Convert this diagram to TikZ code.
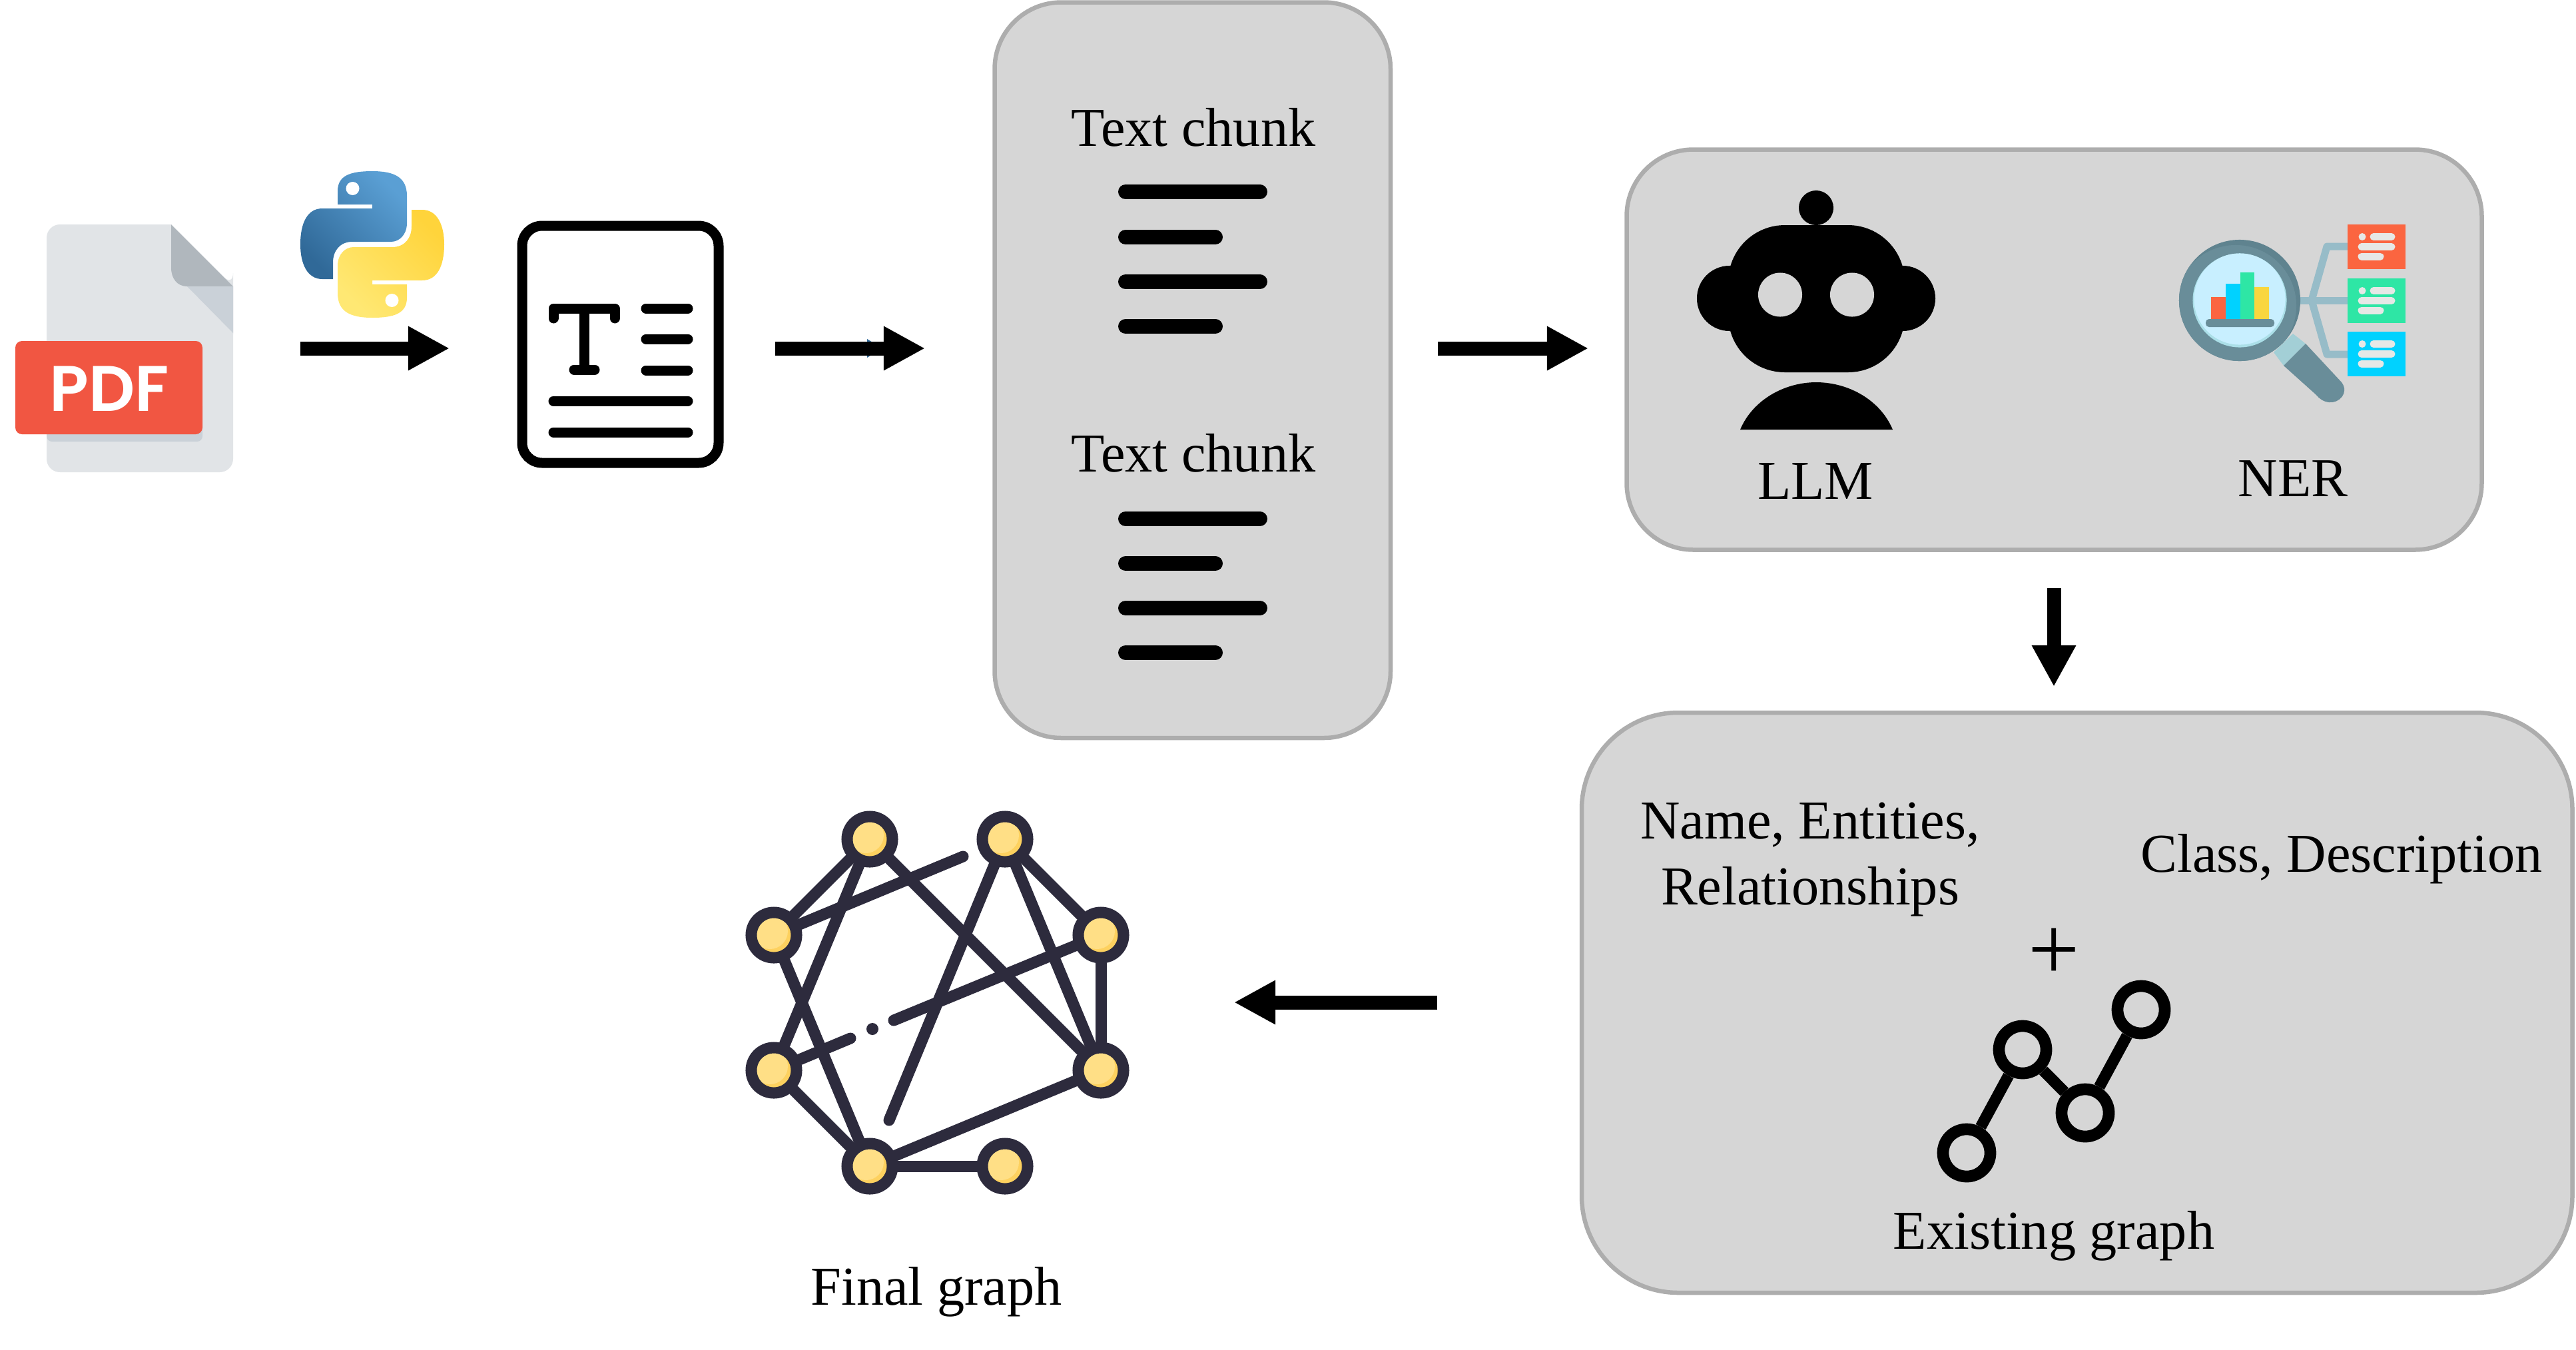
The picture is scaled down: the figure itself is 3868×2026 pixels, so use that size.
\documentclass[tikz,border=0pt]{standalone}
\usepackage{fontspec}
\setmainfont{Liberation Serif}
\newfontfamily\pdffont{Poppins SemiBold}
\usetikzlibrary{arrows.meta}
\definecolor{panelfill}{HTML}{D6D6D6}
\definecolor{panelline}{HTML}{ADADAD}
\definecolor{pdfpage}{HTML}{E1E4E7}
\definecolor{pdffold}{HTML}{B0B7BD}
\definecolor{pdfshade}{HTML}{CAD1D8}
\definecolor{pdfred}{HTML}{F15642}
\definecolor{pyblueA}{HTML}{5A9FD4}
\definecolor{pyblueB}{HTML}{306998}
\definecolor{pyyellowA}{HTML}{FFE873}
\definecolor{pyyellowB}{HTML}{FFD43B}
\definecolor{lensring}{HTML}{698D99}
\definecolor{lensdark}{HTML}{5F838F}
\definecolor{lensglass}{HTML}{C8EFFF}
\definecolor{lensedge}{HTML}{ABDFE8}
\definecolor{lensneck}{HTML}{A3CFD6}
\definecolor{treeline}{HTML}{97BCC8}
\definecolor{cardred}{HTML}{FB6540}
\definecolor{cardgreen}{HTML}{2EE6A5}
\definecolor{cardblue}{HTML}{00D2FF}
\definecolor{cardrow}{HTML}{E6E8E6}
\definecolor{baryellow}{HTML}{F9D63F}
\definecolor{graphink}{HTML}{2D2B3D}
\definecolor{nodelight}{HTML}{FFDF86}
\definecolor{nodedark}{HTML}{FDD15F}
\begin{document}
\begin{tikzpicture}[x=.01cm,y=-.01cm]
\tikzset{
    panelbox/.style={fill=panelfill,draw=panelline,line width=.065cm},
    lab/.style={anchor=base,inner sep=0,font=\fontsize{23.4}{28.1}\selectfont},
    flowarrow/.style={line width=.21cm,-{Triangle[length=.62cm,width=.62cm]}},
    inkline/.style={line width=.15cm,line cap=round,line join=round},
    chunkline/.style={line width=.22cm,line cap=round},
    treelink/.style={treeline,line width=.11cm,line join=round},
    cardbar/.style={cardrow,line width=.11cm,line cap=round},
    graphnode/.style={circle,draw=graphink,line width=.17cm,minimum size=.68cm,inner sep=0,fill=nodelight,
        path picture={\fill[nodedark] (path picture bounding box.center) circle(.3cm);
        \fill[nodelight] ([xshift=-.06cm,yshift=.06cm]path picture bounding box.center) circle(.27cm);}},
    graphedge/.style={graphink,line width=.17cm,line cap=round},
    oldnode/.style={circle,draw=black,line width=.177cm,minimum size=.71cm,inner sep=0},
    oldedge/.style={black,line width=.17cm}}
\useasboundingbox (0,0) rectangle (3868,2026);

\begin{scope}[shift={(0,2)}]
% pdf
\fill[pdfpage,rounded corners=.2cm] (70,335) -- (70,707) -- (350,707) -- (350,428) -- (350,428) -- (257,335) -- cycle;
\fill[pdfpage] (200,335) -- (257,335) -- (350,428) -- (350,500) -- (200,500) -- cycle;
\fill[pdffold] (257,335) -- (350,428) -- (281,428) .. controls (266,428) and (257,416) .. (257,400) -- cycle;
\fill[pdfshade] (281,428) -- (350,428) -- (350,498) -- cycle;
\fill[pdfshade,rounded corners=.08cm] (70,600) rectangle (304,661);
\fill[pdfred,rounded corners=.1cm] (23,510) rectangle (304,650);
\node (pdftag) at (164,582) [white,inner sep=0] {\pdffont\fontsize{27.5}{30}\selectfont PDF};

% python
\def\pysnake{(559,255) .. controls (592,255) and (611,264) .. (611,292) -- (611,333) .. controls (611,350) and (600,361) .. (587,361) -- (529,361) .. controls (510,361) and (500,375) .. (500,392) -- (500,417) -- (484,417) .. controls (462,417) and (451,395) .. (451,365) .. controls (451,332) and (462,311) .. (484,311) -- (559,311) -- (559,305) -- (507,305) -- (507,285) .. controls (507,262) and (525,255) .. (559,255) -- cycle}
\shade[left color=pyblueA,right color=pyblueB,shading angle=-45] \pysnake;
\fill[white] (529.5,281) circle(.1cm);
\begin{scope}[rotate around={180:(559,365)}]
\shade[left color=pyyellowB,right color=pyyellowA,shading angle=-45] \pysnake;
\fill[white] (529.5,281) circle(.1cm);
\end{scope}

% text page
\draw[line width=.15cm,rounded corners=.3cm] (784,337) rectangle (1079,693);
\draw[inkline] (831,476) -- (831,461) -- (923,461) -- (923,476);
\draw[inkline,line cap=butt] (877,461) -- (877,553);
\draw[inkline] (862,553) -- (893,553);
\draw[inkline] (970,461) -- (1033,461);
\draw[inkline] (970,507) -- (1033,507);
\draw[inkline] (970,554) -- (1033,554);
\draw[inkline] (831,600) -- (1033,600);
\draw[inkline] (831,647) -- (1033,647);
\end{scope}

% chunks
\draw[panelbox,rounded corners=1cm] (1493.5,3.5) rectangle (2088,1108);
\node (chunkA) at (1792,219) [lab] {Text chunk};
\draw[chunkline] (1690,288) -- (1892,288);
\draw[chunkline] (1690,356) -- (1825,356);
\draw[chunkline] (1690,423) -- (1892,423);
\draw[chunkline] (1690,490) -- (1825,490);
\node (chunkB) at (1792,708) [lab] {Text chunk};
\draw[chunkline] (1690,779) -- (1892,779);
\draw[chunkline] (1690,846) -- (1825,846);
\draw[chunkline] (1690,913) -- (1892,913);
\draw[chunkline] (1690,980) -- (1825,980);

% llm and ner
\draw[panelbox,rounded corners=1cm] (2442.5,224.5) rectangle (3726.5,825.5);
\fill (2727,312) circle(.26cm);
\fill[rounded corners=.85cm] (2595,338) rectangle (2860,559);
\fill (2597,448) circle(.49cm);
\fill (2857,448) circle(.49cm);
\fill[panelfill] (2673,442.5) circle(.33cm);
\fill[panelfill] (2781,442.5) circle(.33cm);
\fill (2613,645) .. controls (2632,600) and (2680,574) .. (2727,574) .. controls (2775,574) and (2823,600) .. (2842,645) -- cycle;
\node (llmlabel) at (2726,749) [lab] {LLM};

\draw[treelink] (3450,451) -- (3525,451);
\draw[treelink] (3471,451) -- (3494,370) -- (3525,370);
\draw[treelink] (3471,451) -- (3494,532) -- (3525,532);
\fill[lensneck] (3414,529) -- (3443,501) -- (3462,516) -- (3429,549) -- cycle;
\fill[lensring] (3462,516) -- (3516,574) .. controls (3528,590) and (3512,606) .. (3497,604) .. controls (3488,603) and (3482,598) .. (3478,593) -- (3429,549) -- cycle;
\fill[lensdark] (3363,451) circle(.91cm);
\begin{scope}
\clip (3363,451) circle(.91cm);
\fill[lensring] (3357,459) circle(.91cm);
\end{scope}
\fill[lensedge] (3363,451) circle(.705cm);
\fill[lensglass] (3363,449) circle(.685cm);
\fill[cardred] (3320,446) rectangle (3342,480);
\fill[cardblue] (3342,426) rectangle (3364,480);
\fill[cardgreen] (3364,409) rectangle (3385,480);
\fill[baryellow] (3385,431) rectangle (3407,480);
\fill[lensring,rounded corners=.05cm] (3312,479) rectangle (3415,491);

\def\ct{337}
\def\col{cardred}
\fill[\col] (3525,\ct) rectangle (3612,\ct+67);
\fill[cardbar] (3547,\ct+18.5) circle(.055cm);
\draw[cardbar] (3564,\ct+18.5) -- (3591,\ct+18.5);
\draw[cardbar] (3546,\ct+33.5) -- (3591,\ct+33.5);
\draw[cardbar] (3546,\ct+48) -- (3574,\ct+48);

\def\ct{418}
\def\col{cardgreen}
\fill[\col] (3525,\ct) rectangle (3612,\ct+67);
\fill[cardbar] (3547,\ct+18.5) circle(.055cm);
\draw[cardbar] (3564,\ct+18.5) -- (3591,\ct+18.5);
\draw[cardbar] (3546,\ct+33.5) -- (3591,\ct+33.5);
\draw[cardbar] (3546,\ct+48) -- (3574,\ct+48);

\def\ct{498}
\def\col{cardblue}
\fill[\col] (3525,\ct) rectangle (3612,\ct+67);
\fill[cardbar] (3547,\ct+18.5) circle(.055cm);
\draw[cardbar] (3564,\ct+18.5) -- (3591,\ct+18.5);
\draw[cardbar] (3546,\ct+33.5) -- (3591,\ct+33.5);
\draw[cardbar] (3546,\ct+48) -- (3574,\ct+48);
\node (nerlabel) at (3443,745) [lab] {NER};

% existing graph
\draw[panelbox,rounded corners=1.45cm] (2375,1070) rectangle (3862.5,1941);
\node (namelabel) at (2718,1358) [lab,align=center] {Name, Entities,\\Relationships};
\node (classlabel) at (3516,1309) [lab] {Class, Description};
\node (pluslabel) at (3084,1433) [inner sep=0,font=\fontsize{39}{42}\selectfont] {+};
\node (oldA) at (2953,1731) [oldnode] {};
\node (oldB) at (3037,1576) [oldnode] {};
\node (oldC) at (3131,1671) [oldnode] {};
\node (oldD) at (3215,1516) [oldnode] {};
\draw[oldedge] (oldA) -- (oldB);
\draw[oldedge] (oldB) -- (oldC);
\draw[oldedge] (oldC) -- (oldD);
\node (oldlabel) at (3084,1875) [lab] {Existing graph};

% final graph
\node (gA) at (1306,1260) [graphnode] {};
\node (gB) at (1509,1260) [graphnode] {};
\node (gC) at (1162,1404) [graphnode] {};
\node (gD) at (1653,1404) [graphnode] {};
\node (gE) at (1162,1607) [graphnode] {};
\node (gF) at (1653,1607) [graphnode] {};
\node (gG) at (1306,1751) [graphnode] {};
\node (gH) at (1509,1751) [graphnode] {};
\coordinate (endC) at (1446,1286);
\coordinate (endB) at (1335,1682);
\coordinate (endD) at (1342,1532);
\coordinate (endE) at (1277,1559);
\draw[graphedge] (gA) -- (gC);
\draw[graphedge] (gA) -- (gE);
\draw[graphedge] (gA) -- (gF);
\draw[graphedge] (gB) -- (gD);
\draw[graphedge] (gB) -- (gF);
\draw[graphedge] (gB) -- (endB);
\draw[graphedge] (gC) -- (gG);
\draw[graphedge] (gC) -- (endC);
\draw[graphedge] (gD) -- (gF);
\draw[graphedge] (gD) -- (endD);
\draw[graphedge] (gE) -- (endE);
\draw[graphedge] (gE) -- (gG);
\draw[graphedge] (gF) -- (gG);
\draw[graphedge] (gG) -- (gH);
\fill[graphink] (1310,1545) circle(.09cm);
\node (finallabel) at (1406,1959) [lab] {Final graph};

% arrows
\coordinate (pyS) at (451,523);
\coordinate (pyE) at (675,523);
\coordinate (txtS) at (1164,523);
\coordinate (txtE) at (1389,523);
\coordinate (chS) at (2159,523);
\coordinate (chE) at (2385,523);
\coordinate (llmS) at (3084,883);
\coordinate (llmE) at (3084,1031);
\coordinate (oldS) at (2158,1505);
\coordinate (oldE) at (1853,1505);
\fill[pyblueB] (1302,509) -- (1302,537) -- (1325,523) -- cycle;
\draw[flowarrow] (pyS) -- (pyE);
\draw[flowarrow] (txtS) -- (txtE);
\draw[flowarrow] (chS) -- (chE);
\draw[flowarrow] (llmS) -- (llmE);
\draw[flowarrow] (oldS) -- (oldE);
\end{tikzpicture}
\end{document}
